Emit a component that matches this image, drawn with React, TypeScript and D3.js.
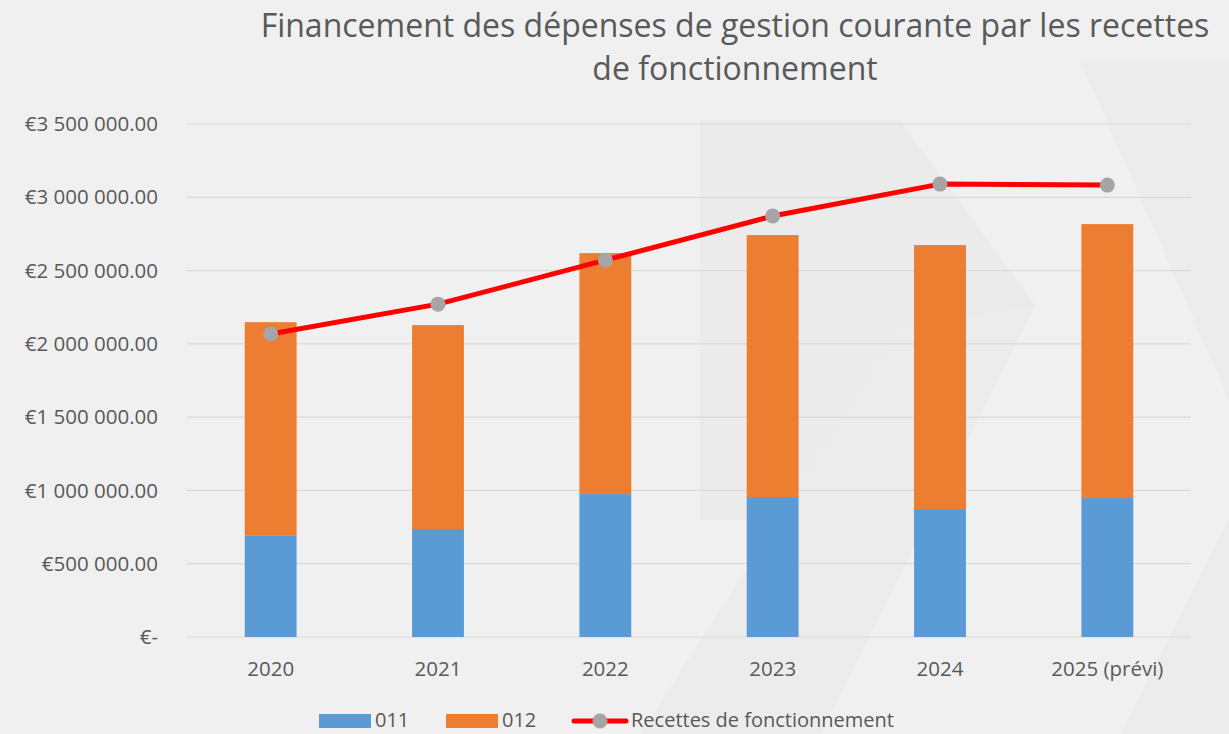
import React, { useEffect, useRef } from "react";
import * as d3 from "d3";

const years = ["2020", "2021", "2022", "2023", "2024", "2025 (prévi)"];
const serie011 = [690000, 737000, 975000, 955000, 873000, 948000];
const serie012 = [1458000, 1391000, 1644000, 1787000, 1801000, 1869000];
const recettes = [2067000, 2271000, 2571000, 2872000, 3090000, 3083000];
const yTicks = [0, 500000, 1000000, 1500000, 2000000, 2500000, 3000000, 3500000];

const W = 1229;
const H = 734;
const FONT = "'Open Sans', sans-serif";
const FS = 20.5;

function fmt(v: number) {
  if (v === 0) return "€-";
  const s = d3.format(",.2f")(v).replace(/,/g, " ");
  return "€" + s;
}

export default function App() {
  const ref = useRef<SVGSVGElement>(null);

  useEffect(() => {
    const svg = d3.select(ref.current);
    svg.selectAll("*").remove();

    // background with faint chevrons
    svg.append("rect").attr("width", W).attr("height", H).attr("fill", "#f0f0f0");
    const bg = svg.append("g");
    bg.append("path").attr("d", "M700,120 L900,120 L1035,305 L900,520 L700,520 Z").attr("fill", "#ebebeb");
    bg.append("path").attr("d", "M640,734 L900,330 L1035,305 L820,734 Z").attr("fill", "#ececec");
    bg.append("path").attr("d", "M1080,60 L1229,60 L1229,734 L1120,734 L1229,520 L1229,400 Z").attr("fill", "#ececec");

    const margin = { left: 187, right: 38, top: 124, bottom: 97 };
    const iw = W - margin.left - margin.right;
    const ih = H - margin.top - margin.bottom;

    const x = d3.scaleBand().domain(years).range([0, iw]).paddingInner(0.69).paddingOuter(0.345);
    const y = d3.scaleLinear().domain([0, 3500000]).range([ih, 0]);

    const g = svg.append("g").attr("transform", `translate(${margin.left},${margin.top})`);

    // gridlines
    g.selectAll(".grid")
      .data(yTicks)
      .enter()
      .append("line")
      .attr("x1", 0)
      .attr("x2", iw)
      .attr("y1", (d) => y(d))
      .attr("y2", (d) => y(d))
      .attr("stroke", "#d9d9d9")
      .attr("stroke-width", 1.2);

    // y labels
    g.selectAll(".ylab")
      .data(yTicks)
      .enter()
      .append("text")
      .attr("x", -29)
      .attr("y", (d) => y(d))
      .attr("dy", "0.35em")
      .attr("text-anchor", "end")
      .attr("font-family", FONT)
      .attr("font-size", FS)
      .attr("fill", "#595959")
      .text((d) => fmt(d));

    // x labels
    g.selectAll(".xlab")
      .data(years)
      .enter()
      .append("text")
      .attr("x", (d) => (x(d) as number) + x.bandwidth() / 2)
      .attr("y", ih + 39)
      .attr("text-anchor", "middle")
      .attr("font-family", FONT)
      .attr("font-size", FS)
      .attr("fill", "#595959")
      .text((d) => d);

    // bars
    const rows = years.map((yr, i) => ({ yr, a: serie011[i], b: serie012[i] }));
    g.selectAll(".b011")
      .data(rows)
      .enter()
      .append("rect")
      .attr("x", (d) => x(d.yr) as number)
      .attr("width", x.bandwidth())
      .attr("y", (d) => y(d.a))
      .attr("height", (d) => y(0) - y(d.a))
      .attr("fill", "#5b9bd5");
    g.selectAll(".b012")
      .data(rows)
      .enter()
      .append("rect")
      .attr("x", (d) => x(d.yr) as number)
      .attr("width", x.bandwidth())
      .attr("y", (d) => y(d.a + d.b))
      .attr("height", (d) => y(d.a) - y(d.a + d.b))
      .attr("fill", "#ed7d31");

    // line
    const line = d3
      .line<number>()
      .x((_, i) => (x(years[i]) as number) + x.bandwidth() / 2)
      .y((d) => y(d));
    g.append("path")
      .datum(recettes)
      .attr("d", line)
      .attr("fill", "none")
      .attr("stroke", "#ff0000")
      .attr("stroke-width", 5)
      .attr("stroke-linejoin", "round");
    g.selectAll(".pt")
      .data(recettes)
      .enter()
      .append("circle")
      .attr("cx", (_, i) => (x(years[i]) as number) + x.bandwidth() / 2)
      .attr("cy", (d) => y(d))
      .attr("r", 7.5)
      .attr("fill", "#a5a5a5");

    // title
    const title = svg
      .append("text")
      .attr("text-anchor", "middle")
      .attr("font-family", FONT)
      .attr("font-size", 32)
      .attr("fill", "#595959");
    title.append("tspan").attr("x", 735).attr("y", 37).text("Financement des dépenses de gestion courante par les recettes");
    title.append("tspan").attr("x", 735).attr("y", 80).text("de fonctionnement");

    // legend
    const lg = svg.append("g").attr("font-family", FONT).attr("font-size", 20).attr("fill", "#595959");
    lg.append("rect").attr("x", 319).attr("y", 714).attr("width", 52).attr("height", 14).attr("fill", "#5b9bd5");
    lg.append("text").attr("x", 375).attr("y", 727).text("011");
    lg.append("rect").attr("x", 446).attr("y", 714).attr("width", 52).attr("height", 14).attr("fill", "#ed7d31");
    lg.append("text").attr("x", 502).attr("y", 727).text("012");
    lg.append("line").attr("x1", 574).attr("x2", 626).attr("y1", 721).attr("y2", 721)
      .attr("stroke", "#ff0000").attr("stroke-width", 5).attr("stroke-linecap", "round");
    lg.append("circle").attr("cx", 600).attr("cy", 721).attr("r", 7.5).attr("fill", "#a5a5a5");
    lg.append("text").attr("x", 631).attr("y", 727).text("Recettes de fonctionnement");
  }, []);

  return (
    <svg
      ref={ref}
      width={W}
      height={H}
      style={{ position: "absolute", left: 0, top: 0, display: "block" }}
    />
  );
}
